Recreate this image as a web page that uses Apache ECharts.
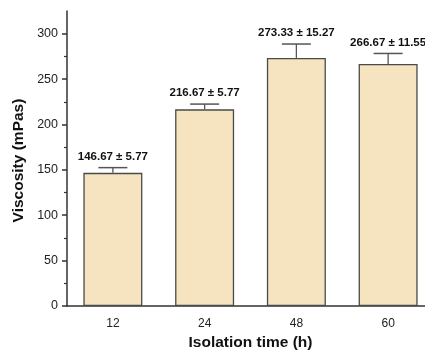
<!DOCTYPE html>
<html>
<head>
<meta charset="utf-8">
<script src="https://cdn.jsdelivr.net/npm/echarts@6/dist/echarts.min.js"></script>
<style>html,body{margin:0;padding:0;background:#fff;}#c{width:425px;height:350px;}</style>
</head>
<body>
<div id="c"></div>
<script>
var categories = ['12', '24', '48', '60'];
var viscosity = [146.67, 216.67, 273.33, 266.67];
var sd = [5.77, 5.77, 15.27, 11.55];
var yTicks = [0, 50, 100, 150, 200, 250, 300];
var yMinorTicks = [25, 75, 125, 175, 225, 275];

var FONT = 'Liberation Sans, Arial, sans-serif';
var chart = echarts.init(document.getElementById('c'), null, {renderer: 'canvas'});
var errData = categories.map(function (c, i) { return [i, viscosity[i], sd[i]]; });

chart.setOption({
  animation: false,
  backgroundColor: '#fff',
  grid: {left: 67, top: 11, bottom: 44, width: 367, outerBoundsMode: 'none', containLabel: false},
  xAxis: {
    type: 'category',
    data: categories,
    axisLine: {lineStyle: {color: '#333', width: 1.5}},
    axisTick: {alignWithLabel: true, length: 5, lineStyle: {color: '#333', width: 1.5}},
    axisLabel: {color: '#222', fontSize: 12, fontFamily: FONT, margin: 12},
    name: 'Isolation time (h)',
    nameLocation: 'middle',
    nameGap: 29,
    nameTextStyle: {color: '#111', fontSize: 15.5, fontWeight: 'bold', fontFamily: FONT}
  },
  yAxis: [{
    type: 'value',
    min: 0, max: 325,
    axisLine: {show: true, lineStyle: {color: '#333', width: 1.5}},
    axisTick: {show: true, inside: false, length: 5, customValues: yTicks, lineStyle: {color: '#333', width: 1.5}},
    axisLabel: {color: '#222', fontSize: 12.5, fontFamily: FONT, margin: 9, customValues: yTicks},
    splitLine: {show: false},
    name: 'Viscosity (mPas)',
    nameLocation: 'middle',
    nameGap: 38,
    nameTextStyle: {color: '#111', fontSize: 15.5, fontWeight: 'bold', fontFamily: FONT, padding: [0, 4, 0, 0]}
  }, {
    type: 'value',
    min: 0, max: 325,
    position: 'left',
    axisLine: {show: false},
    axisTick: {show: true, inside: false, length: 3, customValues: yMinorTicks, lineStyle: {color: '#333', width: 1.2}},
    axisLabel: {show: false},
    splitLine: {show: false}
  }],
  series: [{
    type: 'bar',
    data: viscosity,
    barWidth: 59,
    itemStyle: {color: '#f5e4bf', borderColor: '#4a4a4a', borderWidth: 1.3},
    z: 2
  }, {
    type: 'custom',
    data: errData,
    z: 3,
    renderItem: function (params, api) {
      var i = api.value(0), v = api.value(1), e = api.value(2);
      var top = api.coord([i, v]);
      var cap = api.coord([i, v + e]);
      var hw = 14.5;
      return {
        type: 'group',
        children: [
          {type: 'line', shape: {x1: top[0], y1: top[1], x2: cap[0], y2: cap[1]}, style: {stroke: '#555', lineWidth: 1.3}},
          {type: 'line', shape: {x1: cap[0] - hw, y1: cap[1], x2: cap[0] + hw, y2: cap[1]}, style: {stroke: '#555', lineWidth: 1.5}},
          {type: 'text', x: cap[0], y: cap[1] - 11, style: {
            text: v.toFixed(2) + ' \u00b1 ' + e.toFixed(2),
            fill: '#111', font: 'bold 11.5px ' + FONT, align: 'center', verticalAlign: 'middle'
          }}
        ]
      };
    }
  }]
});
</script>
</body>
</html>
